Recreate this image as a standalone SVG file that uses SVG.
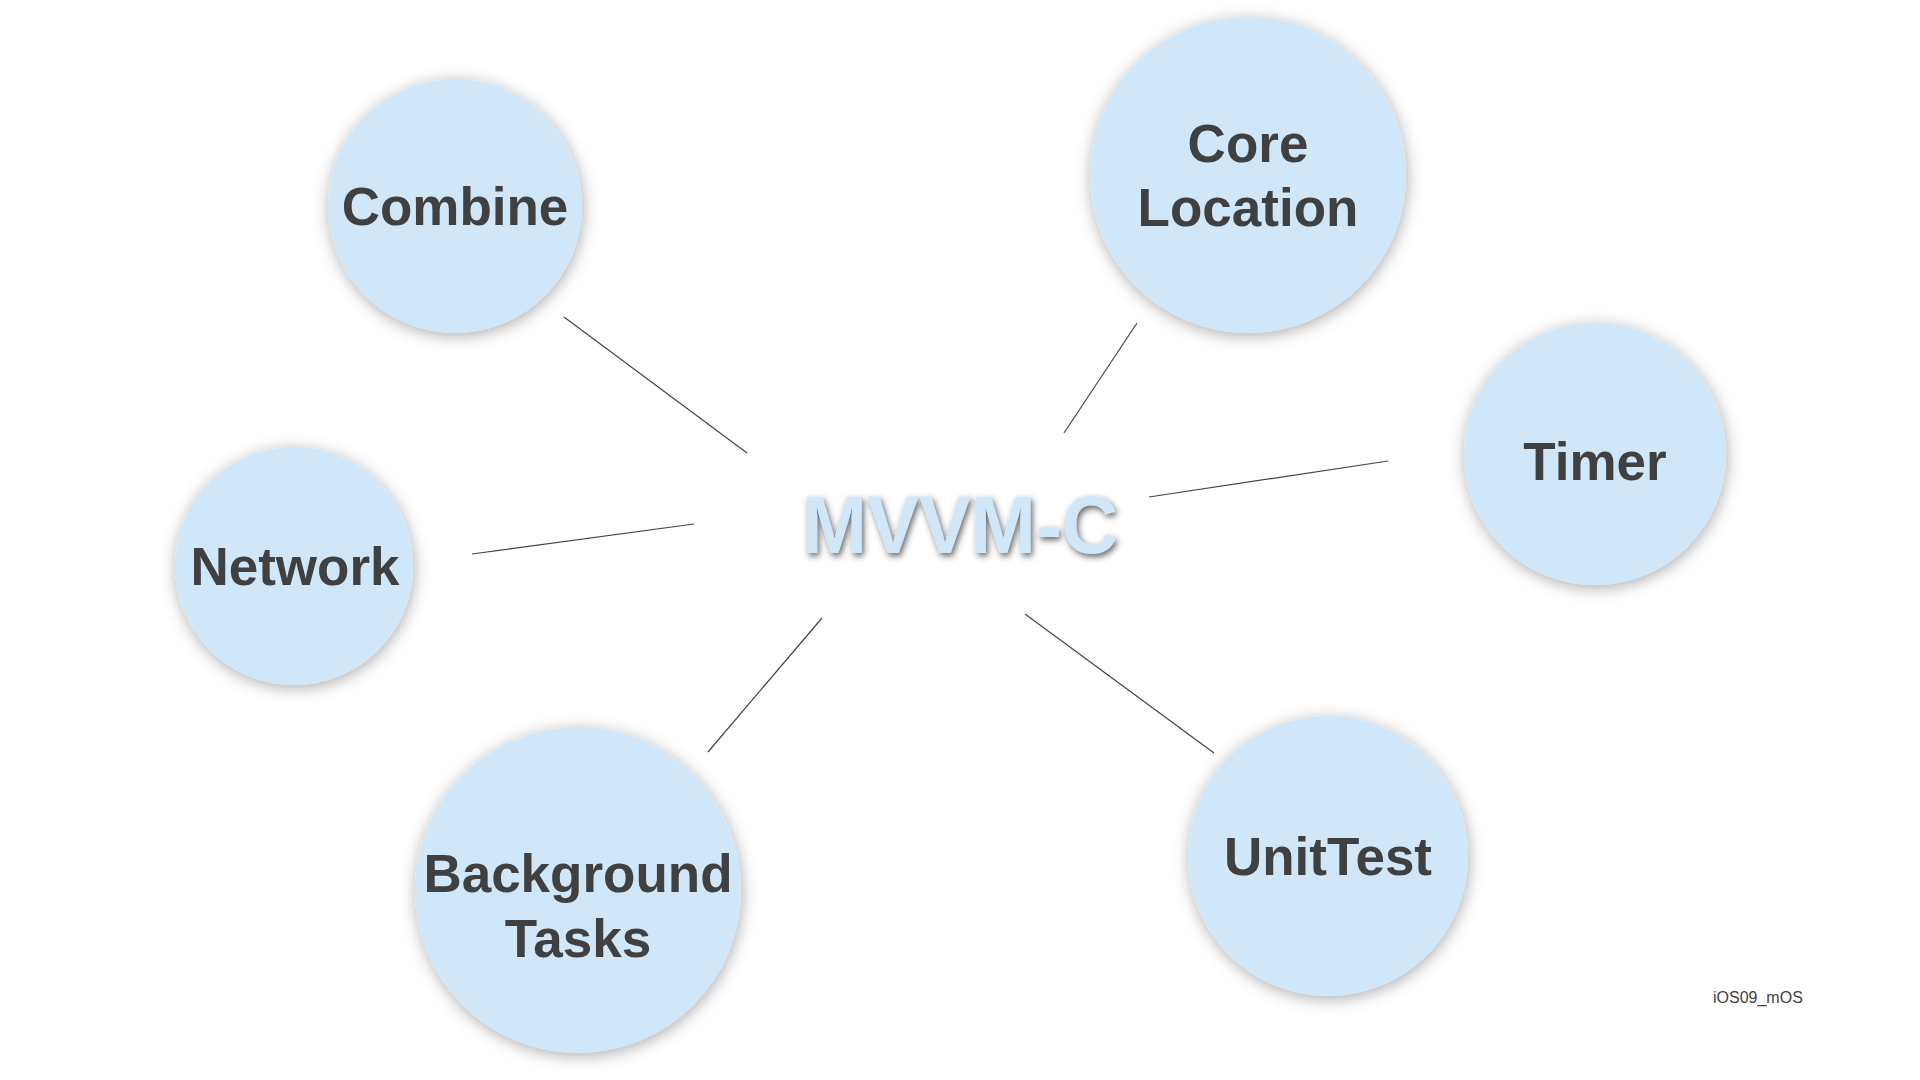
<svg xmlns="http://www.w3.org/2000/svg" width="1920" height="1080" viewBox="0 0 1920 1080">
  <defs>
    <filter id="nodeShadow" x="-20%" y="-20%" width="140%" height="140%">
      <feDropShadow dx="1" dy="3" stdDeviation="8" flood-color="#000" flood-opacity="0.32"/>
    </filter>
    <filter id="titleShadow" x="-10%" y="-30%" width="120%" height="160%">
      <feDropShadow dx="2" dy="3" stdDeviation="3" flood-color="#333" flood-opacity="0.75"/>
    </filter>
  </defs>
  <style>
    .node circle { fill: #D0E7FA; filter: url(#nodeShadow); }
    .node text { font-family: "Liberation Sans", Arial, sans-serif; font-weight: bold; font-size: 53px; fill: #404040; text-anchor: middle; }
    .conn line { stroke: #444; stroke-width: 1.2; }
    .title { font-family: "Liberation Sans", Arial, sans-serif; font-weight: bold; font-size: 82px; fill: #D0E7FA; text-anchor: middle; filter: url(#titleShadow); }
    .footer { font-family: "Liberation Sans", Arial, sans-serif; font-size: 16px; fill: #404040; }
  </style>
  <rect width="1920" height="1080" fill="#FFFFFF"/>
  <g id="connectors" class="conn">
    <line x1="564" y1="317" x2="747" y2="453"/>
    <line x1="472" y1="554" x2="694" y2="524"/>
    <line x1="822" y1="618" x2="708" y2="752"/>
    <line x1="1137" y1="323" x2="1064" y2="433"/>
    <line x1="1388" y1="461" x2="1149" y2="497"/>
    <line x1="1025" y1="614" x2="1214" y2="753"/>
  </g>
  <g id="center">
    <text class="title" x="960" y="553" textLength="316" lengthAdjust="spacingAndGlyphs">MVVM-C</text>
  </g>
  <g id="combine" class="node">
    <circle cx="455" cy="206" r="127"/>
    <text x="455" y="225">Combine</text>
  </g>
  <g id="core-location" class="node">
    <circle cx="1248" cy="175" r="158"/>
    <text x="1248" y="162">Core</text>
    <text x="1248" y="226">Location</text>
  </g>
  <g id="timer" class="node">
    <circle cx="1595" cy="454" r="131"/>
    <text x="1595" y="480">Timer</text>
  </g>
  <g id="network" class="node">
    <circle cx="294" cy="566" r="119"/>
    <text x="295" y="585">Network</text>
  </g>
  <g id="background-tasks" class="node">
    <circle cx="578" cy="890" r="163"/>
    <text x="578" y="892">Background</text>
    <text x="578" y="957">Tasks</text>
  </g>
  <g id="unittest" class="node">
    <circle cx="1328" cy="856" r="140"/>
    <text x="1328" y="875">UnitTest</text>
  </g>
  <text class="footer" x="1713" y="1003">iOS09_mOS</text>
</svg>
